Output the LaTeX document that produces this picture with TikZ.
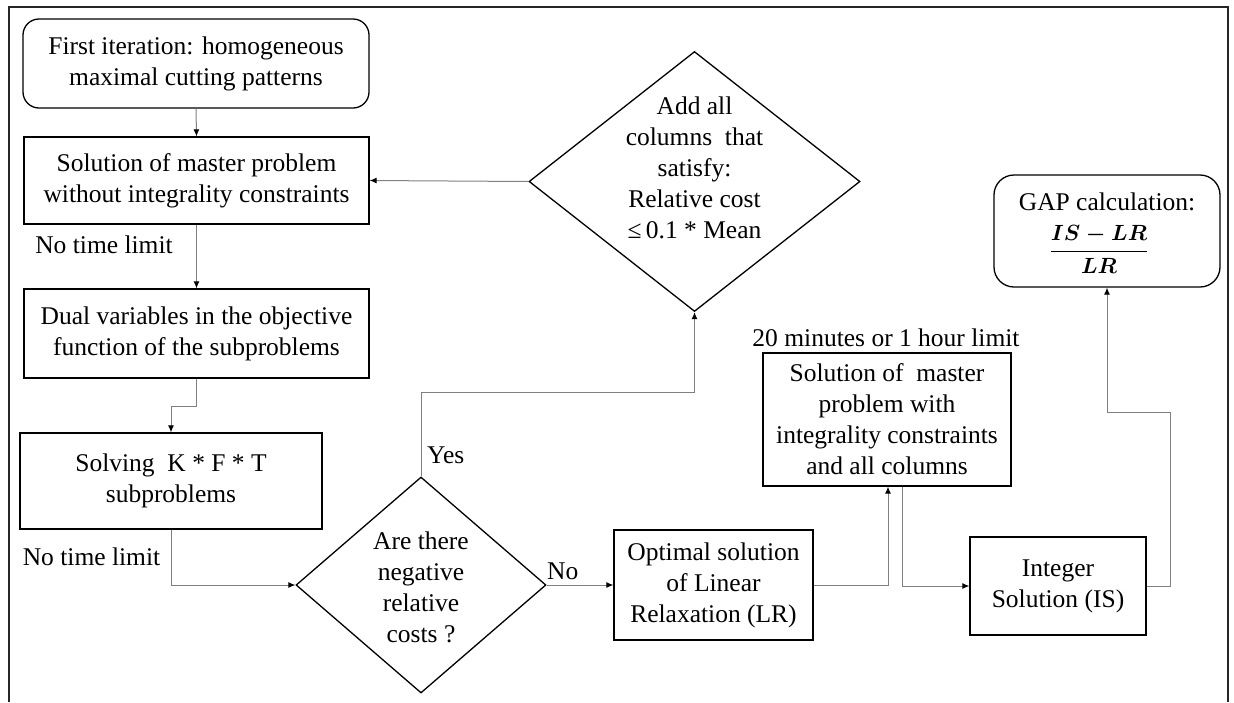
\documentclass[tikz,border=0pt]{standalone}
\usepackage{fix-cm}
\usepackage{amsmath}
\usepackage{fontspec}
\setmainfont{Liberation Serif}
\usetikzlibrary{shapes.geometric,arrows.meta,calc}
\tikzset{
  txt/.style={font=\fontsize{25.5}{31}\selectfont, align=center, inner sep=0pt},
  procbox/.style={txt, draw=black, line width=1.3pt},
  roundbox/.style={procbox, rounded corners=16pt},
  decision/.style={draw=black, line width=1.3pt, diamond, inner sep=0pt},
  conn/.style={draw=black!50, line width=1pt, -{Latex[black,length=7pt,width=6pt]}},
  frameline/.style={draw=black!85, line width=2pt}
}
\begin{document}
\begin{tikzpicture}[x=1pt,y=-1pt]
\useasboundingbox (0,0) rectangle (1234,702);
\draw[frameline] (9,702) -- (9,7) -- (1228,7) -- (1228,702);

\node[roundbox, minimum width=346pt, minimum height=89pt] (first) at (196,63.5) {First iteration: homogeneous\\maximal cutting patterns};
\node[procbox, minimum width=345pt, minimum height=87pt] (master) at (196.5,180.5) {Solution of master problem\\without integrality constraints};
\node[procbox, minimum width=345pt, minimum height=89pt] (dual) at (196.5,333.5) {Dual variables in the objective\\function of the subproblems};
\node[procbox, minimum width=302pt, minimum height=96pt] (solve) at (171,481) {Solving\ \ K * F * T\\subproblems};
\node[decision, minimum width=250pt, minimum height=216pt] (neg) at (421,585) {};
\node[txt] (negtxt) at (421,587) {Are there\\negative\\relative\\costs ?};
\node[decision, minimum width=331pt, minimum height=260pt] (add) at (694.5,181.5) {};
\node[txt] (addtxt) at (694.5,168) {Add all\\columns\ \ that\\satisfy:\\Relative cost\\≤\,0.1 * Mean};
\node[procbox, minimum width=199pt, minimum height=110pt] (lr) at (713.5,585) {Optimal solution\\of Linear\\Relaxation (LR)};
\node[procbox, minimum width=248pt, minimum height=133pt] (mint) at (887,419.5) {Solution of\ \ master\\problem with\\integrality constraints\\and all columns};
\node[procbox, minimum width=176pt, minimum height=98pt] (is) at (1058,586) {Integer\\Solution (IS)};
\node[roundbox, rounded corners=20pt, minimum width=226pt, minimum height=112pt] (gap) at (1107,231) {};
\node[txt] (gaptitle) at (1107,202) {GAP calculation:};
\node[txt, font=\fontsize{22}{26}\selectfont] (gapfrac) at (1099,249) {$\boldsymbol{\dfrac{IS-LR}{LR}}$};

\node[txt, anchor=center] (ntl1) at (104,245) {No time limit};
\node[txt, anchor=center] (ntl2) at (91.5,557) {No time limit};
\node[txt, anchor=west] (yes) at (427,455) {Yes};
\node[txt, anchor=west] (no) at (547,571) {No};
\node[txt, anchor=center] (lim) at (886,338) {20 minutes or 1 hour limit};

\draw[conn] (first.south) -- (master.north);
\draw[conn] (master.south) -- (dual.north);
\draw[conn] (dual.south) -- ++(0,28) -| (solve.north);
\draw[conn] (solve.south) |- (neg.west);
\draw[conn] (neg.north) -- ++(0,-84) -| (add.south);
\draw[conn] (add.west) -- (master.east);
\draw[conn] (neg.east) -- (lr.west);
\draw[conn] (lr.east) -| ($(mint.south)+(1,0)$);
\draw[conn] ($(mint.south)+(15,0)$) |- (is.west);
\draw[conn] (is.east) -- ++(24,0) -- ++(0,-174) -| (gap.south);
\end{tikzpicture}
\end{document}
